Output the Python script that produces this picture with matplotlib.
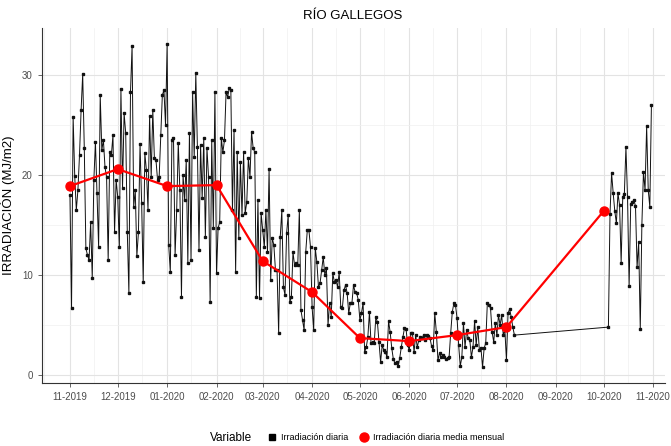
import numpy as np
import pandas as pd
import matplotlib
matplotlib.use('Agg')
from matplotlib import pyplot as plt
import matplotlib.dates as mdates
from matplotlib.lines import Line2D

plt.rcParams['font.family'] = ['Liberation Sans', 'DejaVu Sans']

######################################################################## data
# daily irradiation (MJ/m2), one list per month, first day given
nov19 = [18.0, 6.7, 25.8, 19.9, 16.5, 18.5, 22.0, 26.5, 30.1, 22.7, 12.7, 12.0, 11.5, 15.3, 9.7,
         19.5, 23.3, 18.2, 12.8, 28.0, 22.5, 23.5, 20.8, 19.8, 11.5, 22.3, 22.0, 24.0, 14.3, 19.5]
dec19 = [17.8, 12.8, 28.6, 18.7, 26.2, 24.2, 14.3, 8.2, 28.3, 32.9, 16.8, 18.5, 11.9, 14.3, 23.1,
         17.2, 9.3, 22.2, 20.5, 16.5, 25.9, 19.8, 26.5, 21.7, 21.5, 19.5, 19.8, 24.0, 28.0, 28.5, 25.0]
jan20 = [33.1, 13.0, 10.3, 23.5, 23.7, 12.0, 16.5, 23.2, 18.5, 7.8, 20.0, 17.5, 21.5, 11.2, 24.2,
         11.5, 28.3, 21.8, 30.2, 22.8, 12.5, 23.0, 17.7, 23.7, 13.8, 22.7, 19.8, 7.3, 23.5, 14.7, 28.3]
feb20 = [10.2, 14.7, 15.3, 23.7, 22.3, 23.5, 28.3, 27.8, 28.7, 28.5, 16.5, 24.5, 10.3, 22.3, 13.7,
         21.3, 16.0, 22.3, 16.2, 17.3, 21.7, 19.8, 24.3, 22.7, 22.3, 7.8, 17.5, 7.7, 16.2]
mar20 = [14.5, 12.8, 16.5, 12.3, 20.6, 9.5, 13.7, 13.0, 10.5, 10.5, 4.2, 13.8, 16.5, 8.8, 8.0,
         14.2, 16.0, 7.3, 7.8, 12.3, 11.0, 11.2, 11.0, 16.5, 6.5, 5.5, 4.5, 12.3, 14.5, 14.5, 12.8]
apr20 = [6.8, 4.5, 12.7, 11.3, 8.8, 9.2, 10.5, 11.8, 10.0, 10.7, 5.0, 7.2, 5.8, 10.2, 9.3,
         9.5, 8.8, 10.3, 6.8, 6.7, 8.5, 9.0, 8.2, 6.2, 7.2, 7.2, 9.0, 8.3, 8.2, 7.5]
may20 = [5.5, 6.2, 7.2, 2.3, 2.8, 3.8, 6.3, 3.2, 3.3, 3.2, 5.8, 5.3, 3.3, 1.3, 3.0,
         2.5, 2.3, 1.8, 5.4, 4.3, 2.7, 1.6, 1.2, 1.3, 0.9, 1.7, 2.8, 3.8, 4.7, 4.6, 3.0]
jun20 = [2.5, 4.2, 4.2, 2.3, 4.0, 2.8, 3.5, 3.8, 3.7, 4.0, 3.5, 4.0, 3.9, 3.7, 2.9,
         2.5, 6.2, 4.3, 1.5, 2.2, 1.8, 2.0, 1.8, 1.6, 1.7, 1.8, 4.2, 6.3, 7.2, 7.0]
jul20 = [5.7, 3.0, 0.9, 1.8, 5.2, 2.8, 4.5, 3.7, 3.5, 1.8, 2.8, 5.4, 3.0, 4.8, 2.5,
         2.7, 0.8, 2.7, 3.2, 7.2, 7.0, 6.7, 4.3, 3.3, 5.2, 4.0, 6.0, 5.0, 6.0, 4.0, 4.5]
aug20 = [1.5, 6.2, 6.6, 5.8, 4.8, 4.0]
oct20 = [4.8, 16.1, 20.2, 18.2, 16.4, 15.2, 18.2, 17.0, 11.2, 17.8, 18.1, 22.8, 17.8, 8.9,
         17.1, 17.3, 17.5, 16.9, 10.8, 13.3, 4.6, 15.0, 20.3, 18.5, 24.9, 18.5, 16.8, 27.0]
month_starts = ['2019-11-01', '2019-12-01', '2020-01-01', '2020-02-01', '2020-03-01', '2020-04-01',
                '2020-05-01', '2020-06-01', '2020-07-01', '2020-08-01', '2020-10-04']

# monthly mean
mean_dates = ['2019-11-01', '2019-12-01', '2020-01-01', '2020-02-01', '2020-03-01', '2020-04-01',
              '2020-05-01', '2020-06-01', '2020-07-01', '2020-08-01', '2020-10-01']
mean_vals = [18.9, 20.6, 18.9, 19.0, 11.4, 8.3, 3.7, 3.4, 4.0, 4.8, 16.4]

months = [nov19, dec19, jan20, feb20, mar20, apr20, may20, jun20, jul20, aug20, oct20]
frames = []
for start, vals in zip(month_starts, months):
    frames.append(pd.DataFrame({'date': pd.date_range(start, periods=len(vals), freq='D'),
                                'value': vals}))
df = pd.concat(frames, ignore_index=True)
dm = pd.DataFrame({'date': pd.to_datetime(mean_dates), 'value': mean_vals})

######################################################################## plot
fig = plt.figure(figsize=(6.71, 4.46), dpi=100)
ax = fig.add_axes([0.062, 0.141, 0.929, 0.796])

ax.plot(df['date'], df['value'], color='#111111', lw=0.7, marker='s', ms=1.6, zorder=3)
ax.plot(dm['date'], dm['value'], color='#FF0000', lw=1.6, marker='o', ms=6.5, zorder=4)

ax.set_xlim(pd.Timestamp('2019-10-14 05:00'), pd.Timestamp('2020-11-08 12:00'))
ax.set_ylim(-0.8, 34.7)

ax.xaxis.set_major_locator(mdates.MonthLocator())
ax.xaxis.set_minor_locator(mdates.MonthLocator(bymonthday=16))
ax.xaxis.set_major_formatter(mdates.DateFormatter('%m-%Y'))
ax.set_yticks([0, 10, 20, 30])
ax.set_yticks([5, 15, 25], minor=True)

ax.grid(True, which='major', color='#E3E3E3', lw=0.8)
ax.grid(True, which='minor', color='#F0F0F0', lw=0.5)
ax.set_axisbelow(True)

for s in ['top', 'right']:
    ax.spines[s].set_visible(False)
for s in ['left', 'bottom']:
    ax.spines[s].set_color('#333333')
    ax.spines[s].set_linewidth(0.8)

ax.tick_params(axis='both', which='major', labelsize=7, colors='#4D4D4D', length=3, width=0.6)
ax.tick_params(axis='both', which='minor', length=0)

ax.set_ylabel('IRRADIACIÓN (MJ/m2)', fontsize=9.5)
ax.yaxis.set_label_coords(-0.043, 0.5)
fig.text(0.526, 0.964, 'RÍO GALLEGOS', ha='center', va='center', fontsize=9.5)

fig.text(0.313, 0.019, 'Variable', ha='left', va='center', fontsize=8.5)
handles = [Line2D([], [], color='black', marker='s', ls='none', ms=5),
           Line2D([], [], color='#FF0000', marker='o', ls='none', ms=6.5)]
fig.legend(handles, ['Irradiación diaria', 'Irradiación diaria media mensual'],
           loc='center left', bbox_to_anchor=(0.385, 0.019), ncol=2, frameon=False,
           fontsize=6.5, handletextpad=0.4, columnspacing=1.2, handlelength=1.2)

fig.savefig('out.png', dpi=100)
